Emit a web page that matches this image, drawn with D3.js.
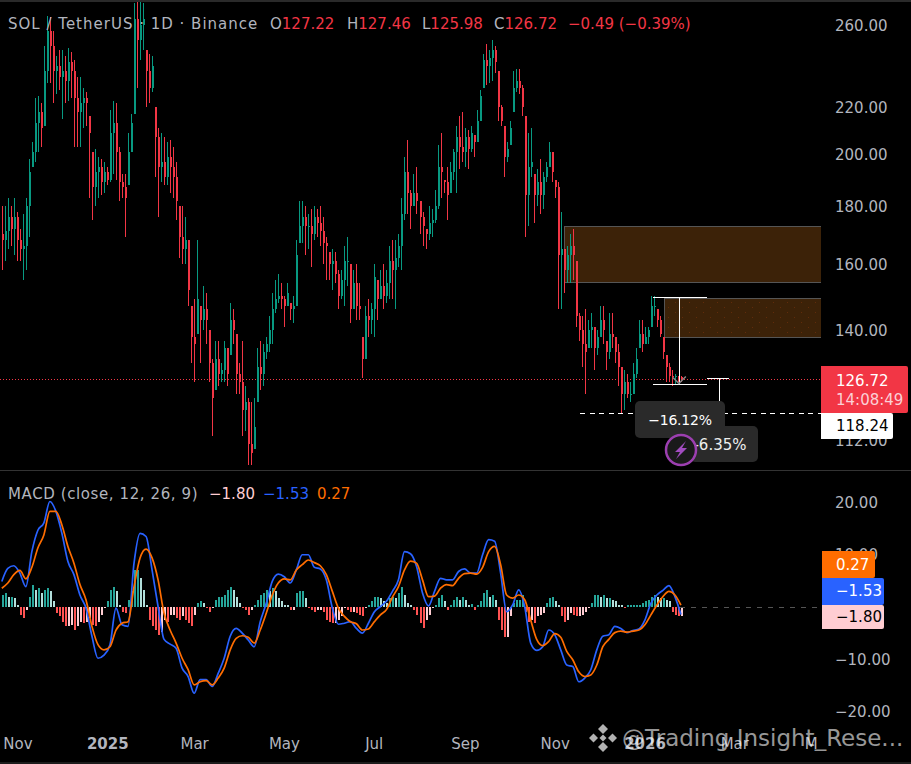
<!DOCTYPE html>
<html><head><meta charset="utf-8">
<style>html,body{margin:0;padding:0;background:#000;overflow:hidden}svg{display:block}text{font-family:"DejaVu Sans",sans-serif}</style>
<script src="https://cdn.jsdelivr.net/npm/d3@7/dist/d3.min.js"></script>
</head><body><svg id="c" width="911" height="764"></svg>
<script>
const highs=[180,180,183,180,183,178,172,177,183,198,
205,224,225,222,249,265,264,257,244,247,
247,244,248,246,242,234,234,229,227,216,
201,202,199,198,197,195,219,223,222,203,
192,192,209,217,272,275,275,272,247,245,
244,220,211,209,207,205,206,203,197,180,
180,176,168,147,149,168,147,153,151,140,
132,137,137,131,137,135,148,146,139,131,
137,125,122,121,122,135,137,136,138,144,
151,155,157,154,150,154,148,150,168,182,
182,180,177,179,180,179,180,176,169,164,
165,164,158,158,166,169,160,158,160,154,
138,147,149,148,160,155,158,160,158,166,
168,168,170,183,199,206,186,192,195,182,
178,172,180,179,186,204,209,190,195,197,
202,212,216,218,211,210,212,208,219,228,
245,250,247,252,249,237,221,212,205,214,
237,238,238,230,216,209,211,192,194,198,
193,197,205,201,190,189,178,165,166,170,
172,161,145,144,146,143,145,141,140,147,
147,137,145,145,138,136,130,129,128,126,
131,135,143,143,141,141,150,150,146,144,
138,133,131,129,128,127.6,127.46];
const lows=[158,161,165,166,163,161,161,155,158,169,
195,197,201,203,212,231,231,222,226,228,
215,222,223,224,203,203,203,211,212,183,
175,180,183,184,185,188,189,192,190,182,
183,169,188,201,217,229,242,247,220,222,
227,191,176,189,188,188,185,183,175,162,
160,160,147,131,126,139,131,140,136,126,
113,124,125,126,126,125,133,136,123,123,
113,114,106.5,106.5,110,121,124,125,132,134,
136,145,148,146,141,147,143,142,147,167,
167,163,165,159,168,169,166,160,155,155,
152,154,146,149,147,153,142,146,143,143,
127,132,138,139,138,143,149,146,148,149,
149,146,159,158,175,177,172,180,177,170,
166,165,168,169,174,179,183,185,175,185,
190,185,194,197,195,194,201,199,205,214,
229,230,231,232,236,214,212,191,197,204,
218,227,226,216,169,173,191,174,180,177,
179,189,195,189,183,146,146,151,154,154,
155,141,137,130,123,135,135,129,133,138,
136,129,132,135,131,125,118,119,122,121,
123,127,135,134,136,136,141,144,141,138,
132,126,126,125,125.6,126,125.98];
const closes=[168,171,176,172,176,168,165,166,180,193,
201,213,218,211,237,257,249,237,239,234,
237,232,241,237,224,218,222,224,222,209,
187,193,195,189,193,190,209,213,201,189,
187,183,201,213,263,252,260,263,237,229,
239,207,195,197,191,199,195,191,182,169,
165,168,152,138,136,149,143,146,143,131,
122,132,128,129,135,128,143,140,128,126,
119,121,111,109,115,130,128,134,136,140,
146,149,150,149,147,151,146,147,163,173,
176,173,173,170,176,174,171,167,166,160,
161,157,150,155,161,161,146,154,147,146,
132,144,143,146,156,149,153,150,154,161,
158,162,166,177,193,185,180,185,182,176,
173,170,174,175,180,195,193,189,184,193,
201,207,203,201,207,202,209,205,214,225,
242,239,243,247,241,220,214,199,202,211,
229,232,229,220,184,195,197,184,189,184,
191,195,201,193,187,163,165,158,163,166,
163,144,140,136,134,140,141,135,138,143,
140,134,139,138,134,130,123,126,123,123,
128,132,139,136,138,140,147,147,143,139,
134,130,127.6,127.5,127.6,127.22,126.72];
const macdLine=[4.8,7.3,7.8,6.4,3.8,10.5,14.6,16.0,20.1,18.2,
14.0,8.6,6.1,2.2,-0.3,-5.7,-9.9,-9.3,-7.3,-0.3,
-3.5,-3.8,8.3,14.0,13.4,7.0,0,-6.3,-7.2,-8.0,
-11.8,-13.4,-16.6,-14.0,-14.0,-15.3,-12.8,-9.9,-5.7,-4.2,
-5.1,-6.4,-7.7,-2.9,0.6,4.8,6.2,5.7,4.5,7.0,
9.9,9.9,7.5,7.2,5.1,-0.3,-3.4,-3.2,-2.9,-4.2,
-5.1,-3.2,-1.0,0,1.0,2.9,5.1,10.5,10.1,7.7,
2.6,0.1,2.9,5.4,5.1,5.1,6.7,7.2,6.4,6.4,
9.9,12.8,12.5,6.4,-1.0,0.3,3.2,0,-7.0,-8.4,
-7.7,-4.5,-5.4,-8.3,-11.2,-11.5,-14.4,-13.7,-12.1,-8.3,
-5.7,-5.4,-3.8,-4.2,-5.0,-4.6,-4.3,-2.6,0.6,2.2,
3.1,4.0,1.9,-1.53];
const signalLine=[3.5,4.5,6.1,6.9,5.3,7.5,11.2,13.7,18.2,18.2,
15.6,11.5,8.3,4.2,1.3,-3.8,-7.3,-8.3,-7.7,-4.5,
-3.2,-2.9,3.8,9.3,11.0,9.3,5.1,-1.3,-4.5,-7.0,
-9.9,-12.1,-15.0,-14.4,-14.2,-15.0,-13.7,-11.8,-8.3,-6.1,
-5.6,-5.9,-7.0,-4.5,-1.3,2.2,4.5,5.3,5.1,7.0,
8.0,8.9,8.4,7.8,6.1,2.9,-0.3,-1.9,-2.9,-3.3,
-4.5,-4.3,-2.9,-1.6,-0.6,1.8,3.8,7.0,8.7,8.3,
5.1,1.9,2.0,3.5,4.2,4.0,5.4,6.3,6.4,6.2,
7.5,10.5,11.5,8.0,2.2,1.6,2.2,1.3,-2.6,-6.3,
-7.5,-6.7,-5.2,-5.9,-8.6,-10.2,-12.5,-13.4,-13.1,-11.2,
-7.7,-6.3,-5.0,-4.7,-4.9,-4.7,-4.5,-3.5,-1.6,0.3,
1.9,2.9,2.2,0.27];
const histogram=[2.2,2.6,1.9,1.9,1.6,.3,-1.6,-2.2,-.6,1.9,
4.2,3.2,3.5,2.6,3.2,3.5,2.9,1,-1.3,-1.9,
-2.9,-3.8,-3.8,-3.5,-4.5,-3.8,-2.9,-3.2,-2.9,-2.2,
-3.5,-3.8,-2.9,-1.6,-.3,1,3.2,3.8,2.9,.3,
-1,-1.3,1.3,2.9,7,7,5.4,3.2,.3,-2.6,
-3.8,-4.5,-5.4,-4.8,-2.6,-2.9,-1.6,-1.6,-2.2,-2.6,
-1.9,-2.6,-3.2,-3.8,-1.6,.6,1,.6,-.3,-1,
-.3,1.3,1.9,1.9,2.2,3.2,3.8,3.2,1.9,.6,
-.2,-.6,-1.6,-.6,.2,1.3,2.2,2.6,3.2,2.9,
3.5,2.9,1.6,1,.3,.2,-.6,-.6,2.6,2.9,
2.9,1.6,-.2,-.6,-1,-.6,-.6,-1,-2.6,-2.9,
-3.2,-3.2,-2.6,-1.9,-.3,-.6,-1,-1,-1.3,-1.6,
-1.9,-.3,.3,1,1.9,1.9,1.6,1,.6,1.6,
1.9,1.6,2.6,3.8,2.2,.6,.2,-.6,-1.6,-3.2,
-4.2,-2.6,-1.6,-.3,.2,1.6,2.2,1,-.6,.2,
1.3,1.9,1.3,1.9,1.3,.3,.5,-.6,.2,1,
2.6,3.2,1.9,2.2,1.3,-2.6,-4.5,-5.8,-5.8,-1.9,
.6,1.3,1.3,2.2,-1,-2.9,-2.6,-3.2,-1.9,-1.6,
-1.3,.6,1.6,1.9,1,.3,-1.9,-2.9,-2.6,-1.3,
-1.6,-1.9,-1.9,-1.6,-1,-.3,.6,2.2,2.2,1.9,
2.2,1.6,1.6,1.3,1,.3,.2,-.3,.2,.2,
.2,.2,.3,.6,1,1.3,1.9,2.2,1.9,1.6,
1.6,1.3,1,-1,-1.6,-1.9,-1.8];
const priceTicks=[260,220,200,180,160,140,112];
const macdTicks=[20,10,-10,-20];
const timeTicks=[[new Date(2024,10,1),"Nov",false],[new Date(2025,0,1),"2025",true],[new Date(2025,2,1),"Mar",false],[new Date(2025,4,1),"May",false],[new Date(2025,6,1),"Jul",false],[new Date(2025,8,1),"Sep",false],[new Date(2025,10,1),"Nov",false],[new Date(2026,0,1),"2026",true],[new Date(2026,2,3),"Mar",false],[new Date(2026,3,24),"M",false]];
const zones=[[new Date(2025,10,7),172.9,154.3,false],[new Date(2026,0,14),149.3,138.0,true]];
const lastClose=126.72, keyLevel=118.24;

const W=821,fmt=d3.format(".2f"),minus=s=>s.replace("-","\u2212");
const UP="#089981",DOWN="#F23645",AX="#b2b5be";
const svg=d3.select("#c");
const x=d3.scaleTime().domain([new Date(2024,10,1),new Date(2026,0,1)]).range([18,645]);
const y=d3.scaleLog().domain([260,112]).range([25,440]);
const ym=d3.scaleLinear().domain([20,-20]).range([502,711]);
const dates=closes.map((_,i)=>d3.timeHour.offset(new Date(2024,9,21),i*49));
const opens=closes.map((c,i)=>Math.max(lows[i],Math.min(highs[i],i?closes[i-1]:170)));

svg.append("rect").attr("width",911).attr("height",764).attr("fill","#000");
const defs=svg.append("defs");
defs.append("clipPath").attr("id","pc").append("rect").attr("x",0).attr("y",2).attr("width",W).attr("height",468);
const pat=defs.append("pattern").attr("id","dots").attr("width",14).attr("height",10).attr("patternUnits","userSpaceOnUse");
pat.append("rect").attr("width",14).attr("height",10).attr("fill","#3c2208");
pat.append("rect").attr("x",3).attr("y",2).attr("width",1).attr("height",1).attr("fill","#612c0a");
pat.append("rect").attr("x",10).attr("y",7).attr("width",1).attr("height",1).attr("fill","#612c0a");

svg.append("rect").attr("width",911).attr("height",2).attr("fill","#2a2a2a");
svg.append("rect").attr("y",470).attr("width",911).attr("height",1).attr("fill","#333");
svg.append("rect").attr("y",762).attr("width",911).attr("height",2).attr("fill","#1c1c1c");

const price=svg.append("g").attr("clip-path","url(#pc)");
price.selectAll(".z").data(zones).join("rect").attr("class","z")
 .attr("x",d=>Math.round(x(d[0]))+.5).attr("y",d=>Math.round(y(d[1]))+.5)
 .attr("width",d=>W-Math.round(x(d[0]))).attr("height",d=>Math.round(y(d[2]))-Math.round(y(d[1])))
 .attr("fill",d=>d[3]?"url(#dots)":"#3c2208").attr("stroke","#555").attr("stroke-width",1);
price.append("line").attr("x1",0).attr("x2",W).attr("y1",Math.round(y(lastClose))+.5).attr("y2",Math.round(y(lastClose))+.5)
 .attr("stroke",DOWN).attr("stroke-dasharray","1 2");
const col=i=>closes[i]>=opens[i]?UP:DOWN;
const cg=price.append("g").attr("shape-rendering","crispEdges");
cg.selectAll(".w").data(closes).join("rect").attr("x",(d,i)=>Math.round(x(dates[i]))).attr("width",1)
 .attr("y",(d,i)=>y(highs[i])).attr("height",(d,i)=>y(lows[i])-y(highs[i])).attr("fill",(d,i)=>col(i));
cg.selectAll(".b").data(closes).join("rect").attr("x",(d,i)=>Math.round(x(dates[i]))).attr("width",2)
 .attr("y",(d,i)=>Math.min(y(opens[i]),y(d))).attr("height",(d,i)=>Math.max(1,Math.abs(y(opens[i])-y(d)))).attr("fill",(d,i)=>col(i));

// measuring tools and key level
const white="#fff",tool=svg.append("g").attr("stroke",white).attr("stroke-width",1).attr("shape-rendering","crispEdges");
const kl=Math.round(y(keyLevel))+.5;
tool.append("line").attr("x1",580).attr("x2",W).attr("y1",kl).attr("y2",kl).attr("stroke-dasharray","5 4.5");
const x0=x(new Date(2026,0,24)),x1=x(new Date(2026,1,20));
const yA=y(149.7),yB=y(125.6),yC=y(127),yD=y(118.9);
[[653,707,yA],[653,707,yB],[707,729,yC]].forEach(a=>tool.append("line").attr("x1",a[0]).attr("x2",a[1]).attr("y1",Math.round(a[2])+.5).attr("y2",Math.round(a[2])+.5));
tool.append("line").attr("x1",Math.round(x0)+.5).attr("x2",Math.round(x0)+.5).attr("y1",yA).attr("y2",yB);
tool.append("line").attr("x1",Math.round(x1)+.5).attr("x2",Math.round(x1)+.5).attr("y1",yC).attr("y2",yD);
svg.append("path").attr("d",`M${x0-6} ${yB-6}L${x0} ${yB}L${x0+7} ${yB-7}`).attr("fill","none").attr("stroke","#888").attr("stroke-width",1.5);

svg.append("rect").attr("x",690).attr("y",426).attr("width",68).attr("height",36).attr("rx",5).attr("fill","#2a2a2a");
svg.append("text").attr("x",720).attr("y",450).attr("text-anchor","middle").attr("fill","#eee").attr("font-size",15).text("-6.35%");
svg.append("rect").attr("x",635).attr("y",401).attr("width",90).attr("height",37).attr("rx",5).attr("fill","#2a2a2a");
svg.append("text").attr("x",680).attr("y",424.5).attr("text-anchor","middle").attr("fill","#fff").attr("font-size",14).attr("letter-spacing",-.2).text("\u221216.12%");
svg.append("circle").attr("cx",681).attr("cy",450).attr("r",15).attr("fill","#1a1a1a").attr("stroke","#9c3fb0").attr("stroke-width",2.5);
svg.append("path").attr("d","M686 441L675 452L680 452L676 459L687 448L682 448Z").attr("fill","#a24cc0");

// macd
const mDates=macdLine.map((_,i)=>dates[Math.min(i*2,dates.length-1)]);
const histCol=i=>{const v=histogram[i],p=i?histogram[i-1]:0;return v>=0?(v>=p?"#26A69A":"#B2DFDB"):(v<p?"#FF5252":"#FFCDD2")};
svg.append("g").attr("shape-rendering","crispEdges").selectAll("rect").data(histogram).join("rect")
 .attr("x",(d,i)=>Math.round(x(dates[i]))).attr("width",2)
 .attr("y",d=>Math.min(ym(0),ym(d))).attr("height",d=>Math.abs(ym(d)-ym(0))).attr("fill",(d,i)=>histCol(i));
const ln=d3.line().x((d,i)=>x(mDates[i])).y(d=>ym(d)).curve(d3.curveMonotoneX);
svg.append("path").attr("d",ln(macdLine)).attr("fill","none").attr("stroke","#2962FF").attr("stroke-width",1.7);
svg.append("path").attr("d",ln(signalLine)).attr("fill","none").attr("stroke","#FF6D00").attr("stroke-width",1.7);
svg.append("line").attr("x1",680).attr("x2",W).attr("y1",Math.round(ym(0))+.5).attr("y2",Math.round(ym(0))+.5).attr("stroke","#555").attr("stroke-dasharray","5 6");

// axes
const sty=(g)=>{g.select(".domain").remove();g.selectAll("line").remove();g.selectAll("text").attr("fill",AX).attr("font-size",15).attr("font-family",'"DejaVu Sans",sans-serif').attr("dy","0.35em")};
svg.append("g").attr("transform","translate(826,0)").call(d3.axisRight(y).tickValues(priceTicks).tickFormat(fmt).tickSize(0).tickPadding(9)).call(sty);
svg.append("g").attr("transform","translate(826,0)").call(d3.axisRight(ym).tickValues(macdTicks).tickFormat(d=>minus(fmt(d))).tickSize(0).tickPadding(9)).call(sty);
svg.selectAll(".tt").data(timeTicks).join("text").attr("class","tt").attr("x",d=>x(d[0])).attr("y",744).attr("dy","0.35em")
 .attr("text-anchor","middle").attr("fill",AX).attr("font-size",15).attr("font-weight",d=>d[2]?"bold":"normal").text(d=>d[1]);

// legends
const t=(px,py,s,c,fs,a)=>svg.append("text").attr("x",px).attr("y",py).attr("dy","0.35em").attr("fill",c).attr("font-size",fs||15).attr("text-anchor",a||"start").text(s);
t(8,24,"SOL / TetherUS \u00b7 1D \u00b7 Binance",AX).attr("letter-spacing",1);
[[270,"O",fmt(127.22)],[347,"H",fmt(127.46)],[422,"L",fmt(125.98)],[494,"C",fmt(126.72)]].forEach(a=>{
 const e=t(a[0],24,"",AX);e.append("tspan").text(a[1]);e.append("tspan").attr("fill",DOWN).text(a[2]);});
t(568,24,"\u22120.49 (\u22120.39%)",DOWN);
t(8,494,"MACD (close, 12, 26, 9)",AX).attr("letter-spacing",.6);
t(209,494,"\u22121.80","#FFCDD2");t(263,494,"\u22121.53","#2962FF");t(317,494,"0.27","#FF6D00");

// price labels
const box=(bx,by,w,h,c)=>svg.append("path").attr("d",`M${bx} ${by}H${bx+w-2}Q${bx+w} ${by} ${bx+w} ${by+2}V${by+h-2}Q${bx+w} ${by+h} ${bx+w-2} ${by+h}H${bx}Z`).attr("fill",c);
box(821,366,87,47,"#F23645");
t(836,381,fmt(lastClose),"#fff");t(836,400,"14:08:49","#fbd0d6");
box(821,413,72,26,"#fff");t(836,426,fmt(keyLevel),"#000");
box(822,551,53,27,"#FF6D00");t(836,564.5,"0.27","#fff");
box(822,578,62,27,"#2962FF");t(836,591,"\u22121.53","#fff");
box(822,605,62,24,"#FFCDD2");t(836,616.5,"\u22121.80","#000");

// watermark
const wm=svg.append("g").attr("fill","#c4c4c4").attr("fill-opacity",.9);
[[0,-9,5],[-9.5,0,4.5],[9.5,0,4.5],[0,9,5],[0,0,3.5]].forEach(a=>wm.append("path").attr("d",`M${603+a[0]} ${738+a[1]-a[2]}l${a[2]} ${a[2]}l${-a[2]} ${a[2]}l${-a[2]} ${-a[2]}Z`));
svg.append("text").attr("x",622).attr("y",738).attr("dy","0.35em").attr("fill","#fff").attr("fill-opacity",.6).attr("font-size",23).text("@Trading Insight_Rese...");
</script></body></html>
